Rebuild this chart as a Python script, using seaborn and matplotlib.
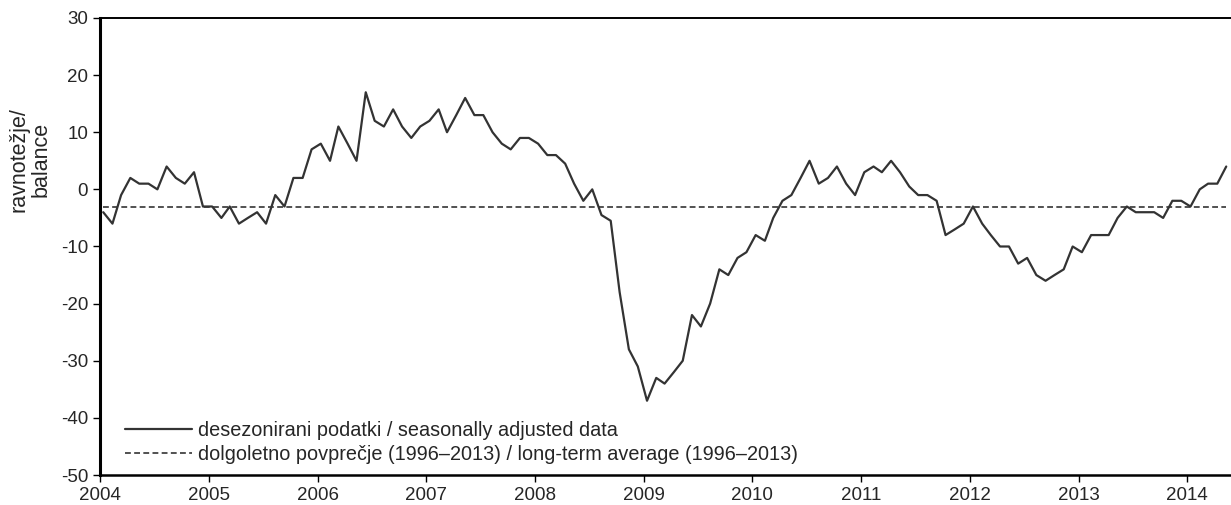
import pandas as pd
import matplotlib.pyplot as plt
import matplotlib.dates as mdates
import seaborn as sns

# Monthly balance values, Jan 2004 - May 2014
values_2004 = [-4, -6, -1, 2, 1, 1, 0, 4, 2, 1, 3, -3]
values_2005 = [-3, -5, -3, -6, -5, -4, -6, -1, -3, 2, 2, 7]
values_2006 = [8, 5, 11, 8, 5, 17, 12, 11, 14, 11, 9, 11]
values_2007 = [12, 14, 10, 13, 16, 13, 13, 10, 8, 7, 9, 9]
values_2008 = [8, 6, 6, 4.5, 1, -2, 0, -4.5, -5.5, -18, -28, -31]
values_2009 = [-37, -33, -34, -32, -30, -22, -24, -20, -14, -15, -12, -11]
values_2010 = [-8, -9, -5, -2, -1, 2, 5, 1, 2, 4, 1, -1]
values_2011 = [3, 4, 3, 5, 3, 0.5, -1, -1, -2, -8, -7, -6]
values_2012 = [-3, -6, -8, -10, -10, -13, -12, -15, -16, -15, -14, -10]
values_2013 = [-11, -8, -8, -8, -5, -3, -4, -4, -4, -5, -2, -2]
values_2014 = [-3, 0, 1, 1, 4]

long_term_avg = -3.0

label_sa = "desezonirani podatki / seasonally adjusted data"
label_avg = "dolgoletno povprečje (1996–2013) / long-term average (1996–2013)"
y_label = "ravnotežje/\nbalance"
y_ticks = [-50, -40, -30, -20, -10, 0, 10, 20, 30]

series = (values_2004 + values_2005 + values_2006 + values_2007 + values_2008
          + values_2009 + values_2010 + values_2011 + values_2012 + values_2013
          + values_2014)
dates = pd.date_range("2004-01-01", periods=len(series), freq="MS") + pd.Timedelta(days=11)
df = pd.DataFrame({"date": dates, "balance": series, "avg": [long_term_avg] * len(series)})

sns.set_style("white")
plt.rcParams["font.family"] = ["Liberation Sans", "DejaVu Sans"]
plt.rcParams["axes.unicode_minus"] = False

fig = plt.figure(figsize=(12.31, 5.05), dpi=100)
ax = fig.add_axes([0.0812, 0.0594, 0.9188, 0.905])

sns.lineplot(data=df, x="date", y="balance", ax=ax, color="#333333", linewidth=1.6, label=label_sa)
sns.lineplot(data=df, x="date", y="avg", ax=ax, color="#333333", linewidth=1.2,
             linestyle=(0, (3.5, 2)), label=label_avg)

ax.set_ylim(-50, 30)
ax.set_yticks(y_ticks)
ax.set_xlim(pd.Timestamp("2004-01-01"), pd.Timestamp("2014-05-28"))
ax.xaxis.set_major_locator(mdates.YearLocator())
ax.xaxis.set_major_formatter(mdates.DateFormatter("%Y"))

ax.set_xlabel("")
ax.set_ylabel(y_label, fontsize=15.5, linespacing=1.08)
ax.yaxis.set_label_coords(-0.043, 0.69)

ax.tick_params(axis="both", labelsize=13.5, length=5, width=1, color="black",
               direction="out", bottom=True, left=True, pad=3.5)

for side in ["left", "bottom", "top"]:
    ax.spines[side].set_visible(True)
    ax.spines[side].set_color("black")
ax.spines["left"].set_linewidth(2.2)
ax.spines["bottom"].set_linewidth(1.8)
ax.spines["top"].set_linewidth(1.4)
ax.spines["right"].set_visible(False)

ax.legend(loc="lower left", bbox_to_anchor=(0.022, 0.025), frameon=False, fontsize=14.3,
          handlelength=3.4, handletextpad=0.3, labelspacing=0.22, borderpad=0,
          borderaxespad=0)

fig.savefig("out.png", dpi=100)
